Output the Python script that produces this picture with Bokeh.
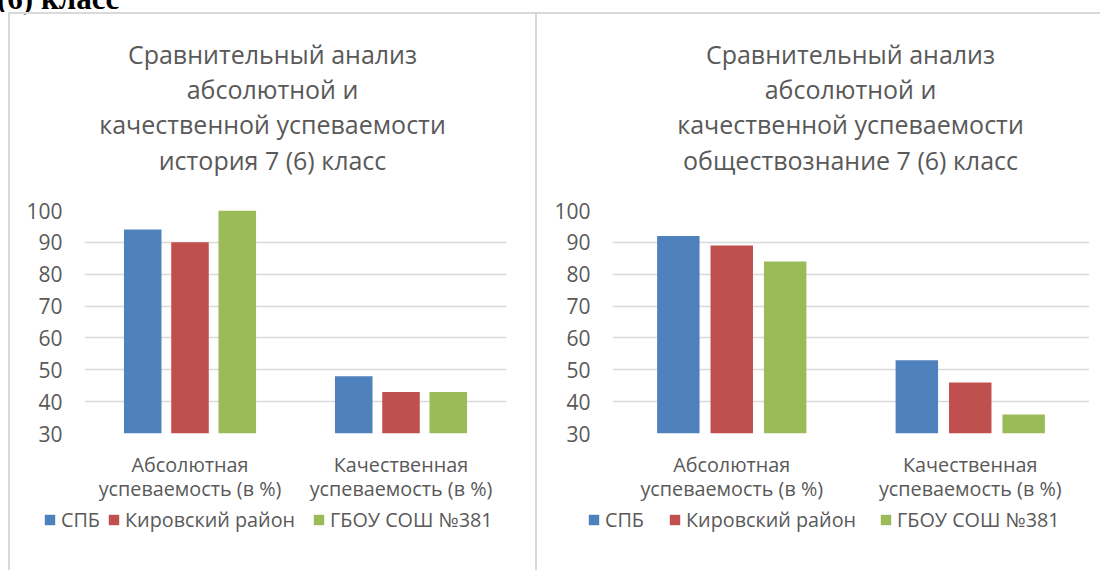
from bokeh.plotting import figure
from bokeh.models import (Range1d, FactorRange, Legend, LegendItem,
                          ColumnDataSource, FixedTicker, Div)
from bokeh.layouts import row, column
from bokeh.transform import dodge
from bokeh.core.properties import value
from bokeh.embed import file_html
from bokeh.resources import INLINE

header_text = "(6) класс"
categories = ["Абсолютная\nуспеваемость (в %)", "Качественная\nуспеваемость (в %)"]
series_names = ["СПБ", "Кировский район", "ГБОУ СОШ №381"]
series_colors = ["#4F81BD", "#C0504D", "#9BBB59"]
y_ticks = [30, 40, 50, 60, 70, 80, 90, 100]

history_title = ["Сравнительный анализ", "абсолютной и",
                 "качественной успеваемости", "история 7 (6) класс"]
history_spb = [94, 48]
history_kirov = [90, 43]
history_school = [100, 43]

social_title = ["Сравнительный анализ", "абсолютной и",
                "качественной успеваемости", "обществознание 7 (6) класс"]
social_spb = [92, 53]
social_kirov = [89, 46]
social_school = [84, 36]

FONT = "Open Sans"
TEXT = "#595959"
GRID = "#D9D9D9"

TITLE_H = 180
CHART_H = 311
LEGEND_H = 65
COL_H = TITLE_H + CHART_H + LEGEND_H


def blank_fig(width, height, y_start, y_end):
    p = figure(width=width, height=height, x_range=Range1d(0, width),
               y_range=Range1d(y_start, y_end), output_backend="svg",
               toolbar_location=None, x_axis_type=None, y_axis_type=None,
               title_location=None, min_border=0, margin=0,
               frame_align=False)
    p.grid.grid_line_color = None
    p.outline_line_color = None
    p.background_fill_color = "white"
    p.border_fill_color = "white"
    return p


def make_chart(title_lines, series, width, ml, mr, title_cx, legend_xs):
    # --- title block
    pt = blank_fig(width, TITLE_H, TITLE_H, 0)
    tsrc = ColumnDataSource(dict(x=[title_cx] * len(title_lines),
                                 y=[39, 74, 109, 145], t=title_lines))
    pt.text(x="x", y="y", text="t", source=tsrc, text_align="center",
            text_baseline="alphabetic", text_font=value(FONT),
            text_font_size="25px", text_color=TEXT)

    # --- chart block
    p = figure(width=width, height=CHART_H,
               x_range=FactorRange(*categories, range_padding=0),
               y_range=Range1d(30, 100), title_location=None,
               output_backend="svg", toolbar_location=None, margin=0,
               min_border_left=ml, min_border_right=mr,
               min_border_top=16, min_border_bottom=71)
    p.outline_line_color = None
    p.background_fill_color = "white"
    p.border_fill_color = "white"
    p.xgrid.grid_line_color = None
    p.ygrid.ticker = FixedTicker(ticks=y_ticks)
    p.ygrid.grid_line_color = GRID
    p.ygrid.grid_line_width = 1.5

    p.yaxis.ticker = FixedTicker(ticks=y_ticks)
    p.yaxis.axis_line_color = None
    p.yaxis.major_tick_line_color = None
    p.yaxis.minor_tick_line_color = None
    p.yaxis.major_tick_in = 0
    p.yaxis.major_tick_out = 0
    p.yaxis.minor_tick_in = 0
    p.yaxis.minor_tick_out = 0
    p.yaxis.major_label_text_font = FONT
    p.yaxis.major_label_text_font_size = "21px"
    p.yaxis.major_label_text_color = TEXT
    p.yaxis.major_label_standoff = 22

    p.xaxis.axis_line_color = None
    p.xaxis.major_tick_line_color = None
    p.xaxis.minor_tick_line_color = None
    p.xaxis.major_tick_in = 0
    p.xaxis.major_tick_out = 0
    p.xaxis.minor_tick_in = 0
    p.xaxis.minor_tick_out = 0
    p.xaxis.major_label_text_font = FONT
    p.xaxis.major_label_text_font_size = "19.8px"
    p.xaxis.major_label_text_color = TEXT
    p.xaxis.major_label_text_line_height = 0.91
    p.xaxis.major_label_standoff = 17

    src = ColumnDataSource(dict(cat=categories, s0=series[0], s1=series[1], s2=series[2]))
    offsets = [-0.224, 0.0, 0.224]
    for i, color in enumerate(series_colors):
        p.vbar(x=dodge("cat", offsets[i], range=p.x_range), top=f"s{i}",
               bottom=30, width=0.178, source=src,
               fill_color=color, line_color=None)

    # --- legend block (swatch proxies of zero size, only the legend shows)
    pl = blank_fig(width, LEGEND_H, 0, LEGEND_H)
    for name, color, lx in zip(series_names, series_colors, legend_xs):
        r = pl.vbar(x=[0], top=[0], bottom=0, width=0,
                    fill_color=color, line_color=None)
        legend = Legend(items=[LegendItem(label=name, renderers=[r])],
                        orientation="horizontal", location=(lx, 37),
                        glyph_width=13, glyph_height=13, label_height=20,
                        label_standoff=5, padding=0, margin=0,
                        border_line_color=None, background_fill_alpha=0,
                        label_text_font=FONT, label_text_font_size="19.8px",
                        label_text_color=TEXT)
        pl.add_layout(legend)

    return column(pt, p, pl, spacing=0, margin=0)


left = make_chart(history_title, [history_spb, history_kirov, history_school],
                  525, 74, 29, 262, [33, 97, 302])
right = make_chart(social_title, [social_spb, social_kirov, social_school],
                   563, 75, 11, 313, [50, 131, 342])


def bar(w, h, color):
    return Div(text="", width=w, height=h, margin=0,
               styles={"background-color": color})


header = Div(text=('<div style="font-family:\'Liberation Serif\';font-weight:bold;'
                   'font-size:31px;line-height:31px;white-space:nowrap;color:#000;'
                   'position:relative;top:-17px;left:-3px;">' + header_text + '</div>'),
             width=1100, height=12, margin=0, styles={"overflow": "visible"})
top_line = row(bar(8, 2, "white"), bar(1092, 2, GRID), spacing=0, margin=0)
charts = row(bar(8, COL_H, "white"), bar(2, COL_H, GRID), left,
             bar(2, COL_H, GRID), right, spacing=0, margin=0)

layout = column(header, top_line, charts, spacing=0, margin=0)

open("out.html", "w").write(file_html(layout, INLINE))
